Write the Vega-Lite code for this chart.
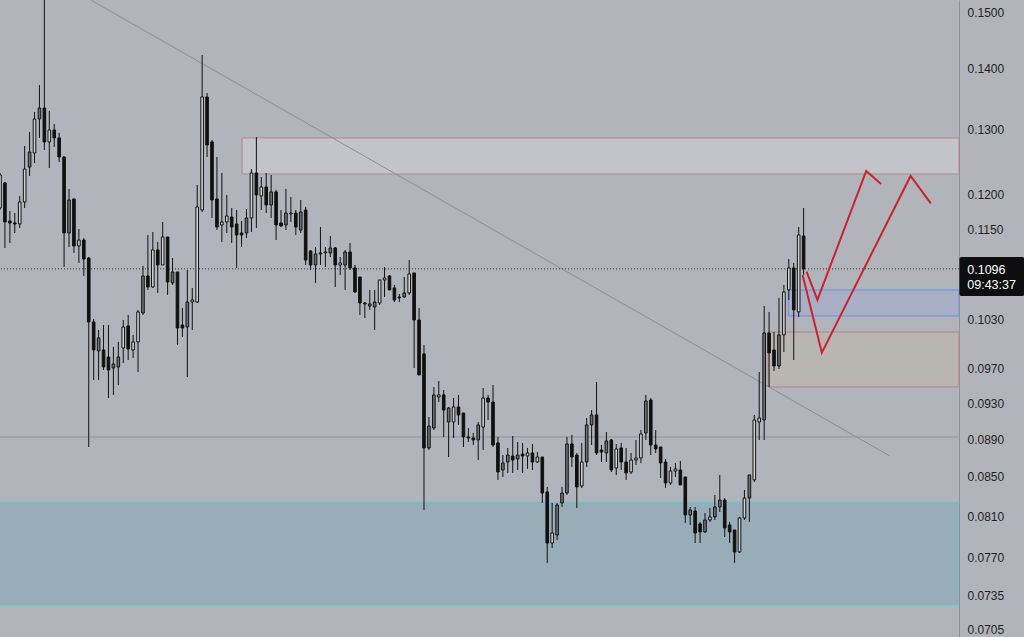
{
"$schema":"https://vega.github.io/schema/vega-lite/v6.json",
"width":959,"height":637,
"autosize":{"type":"none"},
"padding":{"left":0,"top":0,"right":65,"bottom":0},
"background":"#b2b4bb",
"config":{"view":{"stroke":null},"scale":{"continuousPadding":0},
 "axisY":{"orient":"right","title":null,"ticks":false,"grid":false,"domain":true,"domainColor":"#8e9097","domainWidth":1,"labelColor":"#1f1f1f","labelFontSize":12,"labelPadding":8,"labelFont":"Liberation Sans","labelOverlap":false}},
"datasets":{
"candles":[
{"i":0,"o":0.11806,"h":0.12322,"l":0.11777,"c":0.12292,"k":"h"},
{"i":1,"o":0.12173,"h":0.12187,"l":0.11243,"c":0.11606,"k":"d"},
{"i":2,"o":0.11620,"h":0.11763,"l":0.11312,"c":0.11592,"k":"d"},
{"i":3,"o":0.11592,"h":0.11734,"l":0.11451,"c":0.11578,"k":"d"},
{"i":4,"o":0.11578,"h":0.11981,"l":0.11521,"c":0.11893,"k":"h"},
{"i":5,"o":0.11893,"h":0.12735,"l":0.11806,"c":0.12382,"k":"h"},
{"i":6,"o":0.12411,"h":0.12955,"l":0.12277,"c":0.12642,"k":"g"},
{"i":7,"o":0.12627,"h":0.13276,"l":0.12473,"c":0.13162,"k":"h"},
{"i":8,"o":0.13162,"h":0.13719,"l":0.12861,"c":0.13340,"k":"g"},
{"i":9,"o":0.13340,"h":0.15600,"l":0.12673,"c":0.12798,"k":"d"},
{"i":10,"o":0.12798,"h":0.13292,"l":0.12397,"c":0.12987,"k":"h"},
{"i":11,"o":0.12987,"h":0.13082,"l":0.12720,"c":0.12861,"k":"d"},
{"i":12,"o":0.12861,"h":0.12940,"l":0.12488,"c":0.12565,"k":"d"},
{"i":13,"o":0.12565,"h":0.12580,"l":0.10985,"c":0.11451,"k":"d"},
{"i":14,"o":0.11451,"h":0.12084,"l":0.11257,"c":0.11922,"k":"g"},
{"i":15,"o":0.11937,"h":0.11937,"l":0.11175,"c":0.11271,"k":"d"},
{"i":16,"o":0.11271,"h":0.11507,"l":0.11039,"c":0.11353,"k":"h"},
{"i":17,"o":0.11353,"h":0.11381,"l":0.10865,"c":0.11093,"k":"d"},
{"i":18,"o":0.11106,"h":0.11120,"l":0.08816,"c":0.10271,"k":"d"},
{"i":19,"o":0.10271,"h":0.10308,"l":0.09568,"c":0.09926,"k":"d"},
{"i":20,"o":0.09914,"h":0.10171,"l":0.09568,"c":0.10073,"k":"g"},
{"i":21,"o":0.09926,"h":0.10233,"l":0.09686,"c":0.09722,"k":"d"},
{"i":22,"o":0.09841,"h":0.10233,"l":0.09360,"c":0.09686,"k":"d"},
{"i":23,"o":0.09710,"h":0.09963,"l":0.09395,"c":0.09757,"k":"g"},
{"i":24,"o":0.09722,"h":0.10024,"l":0.09510,"c":0.09841,"k":"g"},
{"i":25,"o":0.09950,"h":0.10296,"l":0.09769,"c":0.10208,"k":"h"},
{"i":26,"o":0.10221,"h":0.10360,"l":0.09805,"c":0.09938,"k":"d"},
{"i":27,"o":0.09926,"h":0.10110,"l":0.09829,"c":0.10024,"k":"h"},
{"i":28,"o":0.10024,"h":0.10423,"l":0.09662,"c":0.10398,"k":"h"},
{"i":29,"o":0.10385,"h":0.10999,"l":0.10360,"c":0.10865,"k":"g"},
{"i":30,"o":0.10865,"h":0.11423,"l":0.10681,"c":0.10720,"k":"d"},
{"i":31,"o":0.10720,"h":0.11465,"l":0.10707,"c":0.11216,"k":"h"},
{"i":32,"o":0.11216,"h":0.11326,"l":0.10642,"c":0.11012,"k":"d"},
{"i":33,"o":0.11012,"h":0.11606,"l":0.11012,"c":0.11395,"k":"h"},
{"i":34,"o":0.11395,"h":0.11395,"l":0.10616,"c":0.10786,"k":"d"},
{"i":35,"o":0.10773,"h":0.11106,"l":0.10747,"c":0.10918,"k":"g"},
{"i":36,"o":0.10918,"h":0.10918,"l":0.09987,"c":0.10196,"k":"d"},
{"i":37,"o":0.10233,"h":0.10449,"l":0.10085,"c":0.10196,"k":"d"},
{"i":38,"o":0.10208,"h":0.10945,"l":0.09603,"c":0.10525,"k":"g"},
{"i":39,"o":0.10525,"h":0.10707,"l":0.10171,"c":0.10551,"k":"h"},
{"i":40,"o":0.10525,"h":0.12143,"l":0.10512,"c":0.11821,"k":"h"},
{"i":41,"o":0.11777,"h":0.14232,"l":0.11748,"c":0.13521,"k":"h"},
{"i":42,"o":0.13521,"h":0.13587,"l":0.12565,"c":0.12751,"k":"d"},
{"i":43,"o":0.12798,"h":0.12829,"l":0.11663,"c":0.11922,"k":"d"},
{"i":44,"o":0.11937,"h":0.12565,"l":0.11493,"c":0.11535,"k":"d"},
{"i":45,"o":0.11564,"h":0.12322,"l":0.11326,"c":0.11606,"k":"h"},
{"i":46,"o":0.11606,"h":0.11996,"l":0.11451,"c":0.11691,"k":"h"},
{"i":47,"o":0.11677,"h":0.11806,"l":0.11312,"c":0.11535,"k":"d"},
{"i":48,"o":0.11578,"h":0.11777,"l":0.10972,"c":0.11423,"k":"d"},
{"i":49,"o":0.11451,"h":0.11620,"l":0.11257,"c":0.11423,"k":"d"},
{"i":50,"o":0.11451,"h":0.11792,"l":0.11381,"c":0.11663,"k":"g"},
{"i":51,"o":0.11663,"h":0.12382,"l":0.11465,"c":0.12322,"k":"h"},
{"i":52,"o":0.12322,"h":0.12876,"l":0.11521,"c":0.11996,"k":"d"},
{"i":53,"o":0.11981,"h":0.12262,"l":0.11777,"c":0.12113,"k":"h"},
{"i":54,"o":0.12113,"h":0.12322,"l":0.11734,"c":0.11850,"k":"d"},
{"i":55,"o":0.11850,"h":0.12292,"l":0.11663,"c":0.12040,"k":"g"},
{"i":56,"o":0.12040,"h":0.12069,"l":0.11353,"c":0.11564,"k":"d"},
{"i":57,"o":0.11592,"h":0.11777,"l":0.11535,"c":0.11550,"k":"d"},
{"i":58,"o":0.11564,"h":0.12084,"l":0.11493,"c":0.11734,"k":"g"},
{"i":59,"o":0.11720,"h":0.11966,"l":0.11606,"c":0.11734,"k":"h"},
{"i":60,"o":0.11734,"h":0.11777,"l":0.11423,"c":0.11535,"k":"d"},
{"i":61,"o":0.11493,"h":0.11922,"l":0.11451,"c":0.11748,"k":"g"},
{"i":62,"o":0.11777,"h":0.11821,"l":0.11012,"c":0.11079,"k":"d"},
{"i":63,"o":0.11202,"h":0.11216,"l":0.10945,"c":0.11012,"k":"d"},
{"i":64,"o":0.11012,"h":0.11257,"l":0.10773,"c":0.11161,"k":"g"},
{"i":65,"o":0.11175,"h":0.11535,"l":0.11012,"c":0.11161,"k":"d"},
{"i":66,"o":0.11175,"h":0.11257,"l":0.10985,"c":0.11188,"k":"h"},
{"i":67,"o":0.11175,"h":0.11409,"l":0.11120,"c":0.11243,"k":"g"},
{"i":68,"o":0.11243,"h":0.11257,"l":0.10720,"c":0.11012,"k":"d"},
{"i":69,"o":0.11012,"h":0.11120,"l":0.10878,"c":0.11039,"k":"h"},
{"i":70,"o":0.11012,"h":0.11216,"l":0.10681,"c":0.11188,"k":"g"},
{"i":71,"o":0.11188,"h":0.11312,"l":0.10945,"c":0.10972,"k":"d"},
{"i":72,"o":0.10972,"h":0.11012,"l":0.10642,"c":0.10655,"k":"d"},
{"i":73,"o":0.10852,"h":0.10852,"l":0.10360,"c":0.10512,"k":"d"},
{"i":74,"o":0.10512,"h":0.10525,"l":0.10321,"c":0.10500,"k":"d"},
{"i":75,"o":0.10474,"h":0.10681,"l":0.10423,"c":0.10500,"k":"g"},
{"i":76,"o":0.10461,"h":0.10681,"l":0.10171,"c":0.10525,"k":"g"},
{"i":77,"o":0.10512,"h":0.10812,"l":0.10487,"c":0.10812,"k":"h"},
{"i":78,"o":0.10812,"h":0.10985,"l":0.10590,"c":0.10839,"k":"h"},
{"i":79,"o":0.10865,"h":0.10878,"l":0.10681,"c":0.10681,"k":"d"},
{"i":80,"o":0.10707,"h":0.10747,"l":0.10525,"c":0.10551,"k":"d"},
{"i":81,"o":0.10590,"h":0.10629,"l":0.10525,"c":0.10577,"k":"d"},
{"i":82,"o":0.10590,"h":0.10852,"l":0.10577,"c":0.10642,"k":"g"},
{"i":83,"o":0.10642,"h":0.11079,"l":0.10616,"c":0.10892,"k":"h"},
{"i":84,"o":0.10905,"h":0.10905,"l":0.09710,"c":0.10296,"k":"d"},
{"i":85,"o":0.10296,"h":0.10449,"l":0.09627,"c":0.09627,"k":"d"},
{"i":86,"o":0.09878,"h":0.09987,"l":0.08163,"c":0.08806,"k":"d"},
{"i":87,"o":0.08806,"h":0.09145,"l":0.08784,"c":0.09045,"k":"g"},
{"i":88,"o":0.09023,"h":0.09487,"l":0.09001,"c":0.09395,"k":"g"},
{"i":89,"o":0.09372,"h":0.09556,"l":0.09314,"c":0.09395,"k":"h"},
{"i":90,"o":0.09395,"h":0.09452,"l":0.08925,"c":0.09224,"k":"d"},
{"i":91,"o":0.09090,"h":0.09258,"l":0.08709,"c":0.09246,"k":"g"},
{"i":92,"o":0.09090,"h":0.09360,"l":0.08914,"c":0.09258,"k":"h"},
{"i":93,"o":0.09258,"h":0.09395,"l":0.09057,"c":0.09168,"k":"d"},
{"i":94,"o":0.09190,"h":0.09190,"l":0.08816,"c":0.08925,"k":"d"},
{"i":95,"o":0.08925,"h":0.09023,"l":0.08870,"c":0.08914,"k":"d"},
{"i":96,"o":0.08914,"h":0.08969,"l":0.08838,"c":0.08892,"k":"d"},
{"i":97,"o":0.08892,"h":0.09090,"l":0.08677,"c":0.09057,"k":"g"},
{"i":98,"o":0.09034,"h":0.09475,"l":0.08784,"c":0.09360,"k":"h"},
{"i":99,"o":0.09360,"h":0.09395,"l":0.09112,"c":0.09314,"k":"d"},
{"i":100,"o":0.09314,"h":0.09510,"l":0.08816,"c":0.08838,"k":"d"},
{"i":101,"o":0.08860,"h":0.08925,"l":0.08468,"c":0.08551,"k":"d"},
{"i":102,"o":0.08572,"h":0.08730,"l":0.08499,"c":0.08646,"k":"g"},
{"i":103,"o":0.08656,"h":0.08806,"l":0.08541,"c":0.08730,"k":"g"},
{"i":104,"o":0.08720,"h":0.08936,"l":0.08541,"c":0.08677,"k":"d"},
{"i":105,"o":0.08688,"h":0.08870,"l":0.08572,"c":0.08730,"k":"g"},
{"i":106,"o":0.08741,"h":0.08860,"l":0.08541,"c":0.08720,"k":"d"},
{"i":107,"o":0.08720,"h":0.08806,"l":0.08583,"c":0.08752,"k":"h"},
{"i":108,"o":0.08752,"h":0.08849,"l":0.08572,"c":0.08656,"k":"d"},
{"i":109,"o":0.08656,"h":0.08762,"l":0.08646,"c":0.08709,"k":"h"},
{"i":110,"o":0.08709,"h":0.08709,"l":0.08233,"c":0.08334,"k":"d"},
{"i":111,"o":0.08345,"h":0.08396,"l":0.07652,"c":0.07840,"k":"d"},
{"i":112,"o":0.07840,"h":0.08233,"l":0.07793,"c":0.07937,"k":"h"},
{"i":113,"o":0.07918,"h":0.08233,"l":0.07869,"c":0.08213,"k":"g"},
{"i":114,"o":0.08233,"h":0.08396,"l":0.08193,"c":0.08334,"k":"g"},
{"i":115,"o":0.08334,"h":0.08925,"l":0.08314,"c":0.08849,"k":"g"},
{"i":116,"o":0.08849,"h":0.08947,"l":0.08604,"c":0.08709,"k":"d"},
{"i":117,"o":0.08730,"h":0.08752,"l":0.08183,"c":0.08396,"k":"d"},
{"i":118,"o":0.08406,"h":0.08860,"l":0.08386,"c":0.08656,"k":"h"},
{"i":119,"o":0.08656,"h":0.09134,"l":0.08604,"c":0.09057,"k":"g"},
{"i":120,"o":0.09057,"h":0.09224,"l":0.08838,"c":0.09168,"k":"g"},
{"i":121,"o":0.09168,"h":0.09545,"l":0.08730,"c":0.08752,"k":"d"},
{"i":122,"o":0.08784,"h":0.08838,"l":0.08656,"c":0.08762,"k":"d"},
{"i":123,"o":0.08752,"h":0.08979,"l":0.08656,"c":0.08881,"k":"g"},
{"i":124,"o":0.08892,"h":0.08903,"l":0.08551,"c":0.08572,"k":"d"},
{"i":125,"o":0.08593,"h":0.08849,"l":0.08520,"c":0.08795,"k":"h"},
{"i":126,"o":0.08806,"h":0.08860,"l":0.08572,"c":0.08656,"k":"d"},
{"i":127,"o":0.08656,"h":0.08806,"l":0.08468,"c":0.08541,"k":"d"},
{"i":128,"o":0.08551,"h":0.08752,"l":0.08530,"c":0.08677,"k":"h"},
{"i":129,"o":0.08677,"h":0.08892,"l":0.08625,"c":0.08698,"k":"h"},
{"i":130,"o":0.08698,"h":0.09001,"l":0.08646,"c":0.08958,"k":"h"},
{"i":131,"o":0.08969,"h":0.09395,"l":0.08892,"c":0.09326,"k":"g"},
{"i":132,"o":0.09337,"h":0.09360,"l":0.08730,"c":0.08838,"k":"d"},
{"i":133,"o":0.08838,"h":0.09001,"l":0.08752,"c":0.08795,"k":"d"},
{"i":134,"o":0.08816,"h":0.08816,"l":0.08489,"c":0.08646,"k":"d"},
{"i":135,"o":0.08656,"h":0.08688,"l":0.08386,"c":0.08437,"k":"d"},
{"i":136,"o":0.08437,"h":0.08604,"l":0.08417,"c":0.08561,"k":"h"},
{"i":137,"o":0.08561,"h":0.08646,"l":0.08499,"c":0.08583,"k":"h"},
{"i":138,"o":0.08572,"h":0.08667,"l":0.08417,"c":0.08417,"k":"d"},
{"i":139,"o":0.08499,"h":0.08499,"l":0.08035,"c":0.08114,"k":"d"},
{"i":140,"o":0.08114,"h":0.08193,"l":0.08015,"c":0.08163,"k":"g"},
{"i":141,"o":0.08153,"h":0.08193,"l":0.07840,"c":0.07937,"k":"d"},
{"i":142,"o":0.08025,"h":0.08045,"l":0.07840,"c":0.07947,"k":"d"},
{"i":143,"o":0.07947,"h":0.08133,"l":0.07937,"c":0.08064,"k":"g"},
{"i":144,"o":0.08064,"h":0.08183,"l":0.08045,"c":0.08094,"k":"h"},
{"i":145,"o":0.08094,"h":0.08314,"l":0.08064,"c":0.08193,"k":"g"},
{"i":146,"o":0.08193,"h":0.08520,"l":0.08143,"c":0.08263,"k":"g"},
{"i":147,"o":0.08263,"h":0.08283,"l":0.07898,"c":0.07986,"k":"d"},
{"i":148,"o":0.08015,"h":0.08045,"l":0.07840,"c":0.07947,"k":"d"},
{"i":149,"o":0.07966,"h":0.07966,"l":0.07652,"c":0.07755,"k":"d"},
{"i":150,"o":0.07755,"h":0.08094,"l":0.07746,"c":0.08084,"k":"h"},
{"i":151,"o":0.08084,"h":0.08365,"l":0.08064,"c":0.08283,"k":"h"},
{"i":152,"o":0.08283,"h":0.08520,"l":0.08045,"c":0.08520,"k":"g"},
{"i":153,"o":0.08468,"h":0.09168,"l":0.08447,"c":0.09112,"k":"h"},
{"i":154,"o":0.09090,"h":0.09662,"l":0.08892,"c":0.09134,"k":"h"},
{"i":155,"o":0.09112,"h":0.10474,"l":0.08892,"c":0.10134,"k":"g"},
{"i":156,"o":0.10134,"h":0.10398,"l":0.09487,"c":0.09890,"k":"d"},
{"i":157,"o":0.09926,"h":0.10146,"l":0.09674,"c":0.09733,"k":"d"},
{"i":158,"o":0.09733,"h":0.10577,"l":0.09698,"c":0.10110,"k":"g"},
{"i":159,"o":0.10110,"h":0.10747,"l":0.09902,"c":0.10655,"k":"h"},
{"i":160,"o":0.10681,"h":0.11093,"l":0.10551,"c":0.10972,"k":"h"},
{"i":161,"o":0.10972,"h":0.11039,"l":0.09805,"c":0.10423,"k":"d"},
{"i":162,"o":0.10398,"h":0.11535,"l":0.10334,"c":0.11423,"k":"h"},
{"i":163,"o":0.11409,"h":0.11806,"l":0.10878,"c":0.10960,"k":"d"}
],
"paths":[
{"g":"a","s":0,"x":163.6,"p":0.10922},{"g":"a","s":1,"x":165.8,"p":0.10551},{"g":"a","s":2,"x":175.7,"p":0.12352},{"g":"a","s":3,"x":178.7,"p":0.12158},
{"g":"b","s":0,"x":162.8,"p":0.10878},{"g":"b","s":1,"x":166.7,"p":0.09893},{"g":"b","s":2,"x":184.7,"p":0.12277},{"g":"b","s":3,"x":188.8,"p":0.11874}
]
},
"layer":[
{"data":{"values":[{"x":-1,"x2":194.52,"lo":0.072686,"hi":0.08243}]},
 "mark":{"type":"rect","fill":"#98adb7","stroke":"#5fcbd6","strokeWidth":1.2,"clip":true},
 "encoding":{"x":{"field":"x","type":"quantitative","scale":{"domain":[0,194.52],"nice":false,"zero":false,"padding":0},"axis":null},"x2":{"field":"x2"},
  "y":{"field":"lo","type":"quantitative","scale":{"type":"log","domain":[0.069897,0.15222],"nice":false},"axis":{"values":[0.15,0.14,0.13,0.12,0.115,0.103,0.097,0.093,0.089,0.085,0.081,0.077,0.0735,0.0705],"format":".4f"}},"y2":{"field":"hi"}}},
{"data":{"values":[{"x":49.1,"x2":194.52,"lo":0.12307,"hi":0.12861}]},
 "mark":{"type":"rect","fill":"#c3c4c9","stroke":"#b3868e","strokeWidth":1},
 "encoding":{"x":{"field":"x","type":"quantitative","scale":{"domain":[0,194.52],"nice":false,"zero":false,"padding":0},"axis":null},"x2":{"field":"x2"},
  "y":{"field":"lo","type":"quantitative","scale":{"type":"log","domain":[0.069897,0.15222],"nice":false},"axis":{"values":[0.15,0.14,0.13,0.12,0.115,0.103,0.097,0.093,0.089,0.085,0.081,0.077,0.0735,0.0705],"format":".4f"}},"y2":{"field":"hi"}}},
{"data":{"values":[{"x":155.8,"x2":194.52,"lo":0.09487,"hi":0.10146}]},
 "mark":{"type":"rect","fill":"#b9b5b1","stroke":"#b08489","strokeWidth":1},
 "encoding":{"x":{"field":"x","type":"quantitative","scale":{"domain":[0,194.52],"nice":false,"zero":false,"padding":0},"axis":null},"x2":{"field":"x2"},
  "y":{"field":"lo","type":"quantitative","scale":{"type":"log","domain":[0.069897,0.15222],"nice":false},"axis":{"values":[0.15,0.14,0.13,0.12,0.115,0.103,0.097,0.093,0.089,0.085,0.081,0.077,0.0735,0.0705],"format":".4f"}},"y2":{"field":"hi"}}},
{"data":{"values":[{"x":159.9,"x2":194.52,"lo":0.10347,"hi":0.10681}]},
 "mark":{"type":"rect","fill":"#a9afc5","stroke":"#6f8ee0","strokeWidth":1},
 "encoding":{"x":{"field":"x","type":"quantitative","scale":{"domain":[0,194.52],"nice":false,"zero":false,"padding":0},"axis":null},"x2":{"field":"x2"},
  "y":{"field":"lo","type":"quantitative","scale":{"type":"log","domain":[0.069897,0.15222],"nice":false},"axis":{"values":[0.15,0.14,0.13,0.12,0.115,0.103,0.097,0.093,0.089,0.085,0.081,0.077,0.0735,0.0705],"format":".4f"}},"y2":{"field":"hi"}}},
{"data":{"values":[{"p":0.08925}]},
 "mark":{"type":"rule","color":"#8f9199","strokeWidth":1},
 "encoding":{"y":{"field":"p","type":"quantitative","scale":{"type":"log","domain":[0.069897,0.15222],"nice":false},"axis":{"values":[0.15,0.14,0.13,0.12,0.115,0.103,0.097,0.093,0.089,0.085,0.081,0.077,0.0735,0.0705],"format":".4f"}}}},
{"data":{"values":[{"x":18.42,"p":0.15222},{"x":180.5,"p":0.087195}]},
 "mark":{"type":"line","color":"#8e9096","strokeWidth":1},
 "encoding":{"x":{"field":"x","type":"quantitative","scale":{"domain":[0,194.52],"nice":false,"zero":false,"padding":0},"axis":null},
  "y":{"field":"p","type":"quantitative","scale":{"type":"log","domain":[0.069897,0.15222],"nice":false},"axis":{"values":[0.15,0.14,0.13,0.12,0.115,0.103,0.097,0.093,0.089,0.085,0.081,0.077,0.0735,0.0705],"format":".4f"}}}},
{"data":{"values":[{"p":0.1096}]},
 "mark":{"type":"rule","color":"#333333","strokeWidth":1,"strokeDash":[1,2]},
 "encoding":{"y":{"field":"p","type":"quantitative","scale":{"type":"log","domain":[0.069897,0.15222],"nice":false},"axis":{"values":[0.15,0.14,0.13,0.12,0.115,0.103,0.097,0.093,0.089,0.085,0.081,0.077,0.0735,0.0705],"format":".4f"}}}},
{"data":{"name":"candles"},
 "mark":{"type":"rule","color":"#111111","strokeWidth":1,"clip":true},
 "encoding":{"x":{"field":"i","type":"quantitative","scale":{"domain":[0,194.52],"nice":false,"zero":false,"padding":0},"axis":null},
  "y":{"field":"l","type":"quantitative","scale":{"type":"log","domain":[0.069897,0.15222],"nice":false},"axis":{"values":[0.15,0.14,0.13,0.12,0.115,0.103,0.097,0.093,0.089,0.085,0.081,0.077,0.0735,0.0705],"format":".4f"}},"y2":{"field":"h"}}},
{"data":{"name":"candles"},
 "mark":{"type":"bar","size":2.6,"stroke":"#111111","strokeWidth":1,"clip":true},
 "encoding":{"x":{"field":"i","type":"quantitative","scale":{"domain":[0,194.52],"nice":false,"zero":false,"padding":0},"axis":null},
  "y":{"field":"o","type":"quantitative","scale":{"type":"log","domain":[0.069897,0.15222],"nice":false},"axis":{"values":[0.15,0.14,0.13,0.12,0.115,0.103,0.097,0.093,0.089,0.085,0.081,0.077,0.0735,0.0705],"format":".4f"}},
  "y2":{"field":"c"},
  "fill":{"field":"k","type":"nominal","scale":{"domain":["d","g","h"],"range":["#111111","#6f7178","#d3d4d8"]},"legend":null}}},
{"data":{"name":"paths"},
 "mark":{"type":"line","color":"#c8232f","strokeWidth":2},
 "encoding":{"x":{"field":"x","type":"quantitative","scale":{"domain":[0,194.52],"nice":false,"zero":false,"padding":0},"axis":null},
  "y":{"field":"p","type":"quantitative","scale":{"type":"log","domain":[0.069897,0.15222],"nice":false},"axis":{"values":[0.15,0.14,0.13,0.12,0.115,0.103,0.097,0.093,0.089,0.085,0.081,0.077,0.0735,0.0705],"format":".4f"}},
  "detail":{"field":"g"},"order":{"field":"s","type":"quantitative"}}},
{"data":{"values":[{"x":194.6,"x2":207.8,"lo":0.10603,"hi":0.11120}]},
 "mark":{"type":"rect","fill":"#0e0e10","cornerRadius":2},
 "encoding":{"x":{"field":"x","type":"quantitative","scale":{"domain":[0,194.52],"nice":false,"zero":false,"padding":0},"axis":null},"x2":{"field":"x2"},
  "y":{"field":"lo","type":"quantitative","scale":{"type":"log","domain":[0.069897,0.15222],"nice":false},"axis":{"values":[0.15,0.14,0.13,0.12,0.115,0.103,0.097,0.093,0.089,0.085,0.081,0.077,0.0735,0.0705],"format":".4f"}},"y2":{"field":"hi"}}},
{"data":{"values":[{"x":196.2,"p":0.10945,"t":"0.1096","w":"bold"},{"x":196.2,"p":0.10746,"t":"09:43:37","w":"normal"}]},
 "mark":{"type":"text","align":"left","baseline":"middle","color":"#ffffff","fontSize":12.5,"font":"Liberation Sans"},
 "encoding":{"x":{"field":"x","type":"quantitative","scale":{"domain":[0,194.52],"nice":false,"zero":false,"padding":0},"axis":null},
  "y":{"field":"p","type":"quantitative","scale":{"type":"log","domain":[0.069897,0.15222],"nice":false},"axis":{"values":[0.15,0.14,0.13,0.12,0.115,0.103,0.097,0.093,0.089,0.085,0.081,0.077,0.0735,0.0705],"format":".4f"}},
  "text":{"field":"t"},"fontWeight":{"field":"w","type":"nominal","scale":null}}}
]
}
